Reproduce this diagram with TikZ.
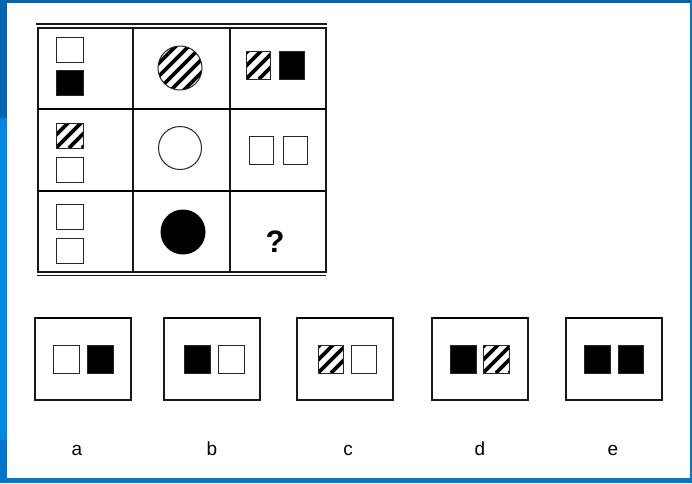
\documentclass[tikz,border=0pt]{standalone}
\usepackage{fontspec}
\setmainfont{Liberation Sans}

\definecolor{winblue}{RGB}{0,118,206}
\definecolor{windark}{RGB}{0,102,178}
\definecolor{winlight}{RGB}{0,136,228}

% squares: x, y (top left), width, height
\newcommand{\wsq}[4]{\draw[sq, fill=white] (#1,#2) rectangle ++(#3,#4);}
\newcommand{\bsq}[4]{\draw[sq, fill=black] (#1,#2) rectangle ++(#3,#4);}
\newcommand{\hsq}[4]{%
  \begin{scope}
    \clip (#1,#2) rectangle ++(#3,#4);
    \foreach \n in {-39,-26,...,39}
      \draw[stripe] (#1+\n,#2+#4) -- ++(40,-40);
  \end{scope}
  \draw[sq] (#1,#2) rectangle ++(#3,#4);}
% hatched circle: centre x, y
\newcommand{\hcirc}[2]{%
  \begin{scope}
    \clip (#1,#2) circle[radius=22];
    \foreach \n in {-52,-39,...,52}
      \draw[stripe] (#1+\n-30,#2+30) -- ++(60,-60);
  \end{scope}
  \draw[sq] (#1,#2) circle[radius=22];}

\begin{document}
\begin{tikzpicture}[x=1pt, y=-1pt,
    rule/.style={draw=black!90, line width=1.1pt},
    thickrule/.style={draw=black, line width=2.6pt},
    toprule/.style={draw=black, line width=1.7pt},
    sq/.style={draw=black!85, line width=1pt},
    stripe/.style={draw=black, line width=3.6pt},
    qmark/.style={font=\fontsize{31}{34}\selectfont\bfseries},
    letter/.style={font=\fontsize{19}{20}\selectfont, anchor=base, inner sep=0pt}
]
\useasboundingbox (0,0) rectangle (692,483);

% Window frame
\fill[winblue] (0,0) rectangle (692,483);
\fill[windark] (0,0) rectangle (692,3);
\fill[windark] (0,0) rectangle (7,118);
\fill[winlight] (0,118) rectangle (7,440);
\fill[white] (7,3) rectangle (689.5,478);

% Grid
\draw[rule] (36,24) -- (327,24);
\draw[rule] (38,28) rectangle (326,272);
\draw[rule] (37,275.5) -- (326,275.5);
\draw[rule] (133,28) -- (133,272);
\draw[rule] (230,28) -- (230,272);
\draw[thickrule] (38,109) -- (326,109);
\draw[thickrule] (38,191) -- (326,191);

% Row 1
\wsq{56}{37}{27}{25}
\bsq{56}{70}{27}{25}
\hcirc{180}{68}
\hsq{246}{51}{24}{28}
\bsq{279}{51}{25}{28}

% Row 2
\hsq{56}{123}{27}{25}
\wsq{56}{157}{27}{25}
\draw[sq, fill=white] (180,148) circle[radius=21.5];
\wsq{249}{136}{24}{28}
\wsq{283}{136}{24}{28}

% Row 3
\wsq{56}{204}{27}{25}
\wsq{56}{238}{27}{25}
\fill (183,232) circle[radius=22.5];
\node[qmark] (q) at (275,242) {?};

% Answer boxes
\foreach \x/\lx/\name in {35/77/a, 164/212/b, 297/348/c, 432/480/d, 566/613/e} {
  \draw[rule] (\x,318) rectangle ++(96,82);
  \draw[toprule] (\x+2,318) -- ++(94,0);
  \node[letter] (lbl\name) at (\lx,455) {\name};
}

% Answer contents
\wsq{53}{345}{26}{28}
\bsq{87}{345}{26}{28}
\bsq{184}{345}{26}{28}
\wsq{218}{345}{26}{28}
\hsq{318}{345}{25}{28}
\wsq{351}{345}{25}{28}
\bsq{450}{345}{26}{28}
\hsq{483}{345}{26}{28}
\bsq{584}{345}{26}{28}
\bsq{618}{345}{25}{28}

\end{tikzpicture}
\end{document}
